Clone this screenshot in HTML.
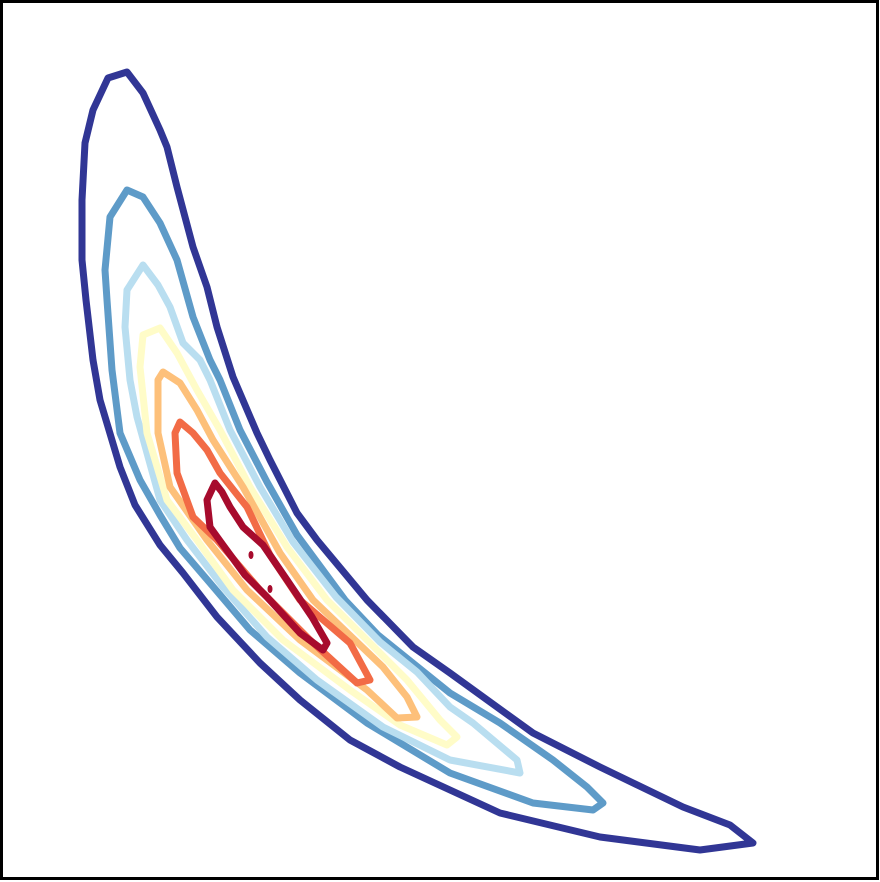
<!DOCTYPE html>
<html>
<head>
<meta charset="utf-8">
<style>
  html, body { margin: 0; padding: 0; background: #fff; }
  svg { display: block; }
</style>
</head>
<body>
<svg id="chart" width="880" height="882" viewBox="0 0 880 882" xmlns="http://www.w3.org/2000/svg">
  <rect x="1.5" y="1.5" width="876" height="877" fill="#fff" stroke="#000" stroke-width="3"/>
  <g id="contours"></g>
</svg>
<script>
// Contour levels (outer to inner), colours, and traced contour points in data units
const levelColors = ["#313695", "#5e9bc8", "#b9def0", "#fffcc8", "#fdc07a", "#f26b46", "#a70b2d"];
const level1 = [[127,72],[108,78],[93,110],[85,143],[82,200],[82,260],[86,300],[93,360],[100,400],[120,467],[135,505],[160,545],[183,573],[217,617],[260,663],[300,700],[350,740],[400,767],[450,790],[500,813],[600,837],[700,850],[753,843],[730,825],[683,807],[600,767],[533,733],[450,673],[413,647],[367,600],[317,540],[297,513],[270,460],[257,433],[233,377],[217,327],[207,287],[193,247],[177,187],[167,147],[160,130],[143,93]];
const level2 = [[127,190],[110,217],[105,270],[107,300],[112,370],[120,433],[140,480],[160,515],[180,548],[210,583],[250,630],[300,673],[367,723],[450,773],[533,803],[593,810],[603,803],[587,787],[553,760],[500,723],[450,693],[378,635],[345,600],[297,535],[267,482],[240,430],[220,380],[210,360],[193,317],[177,260],[160,223],[143,197]];
const level3 = [[143,265],[127,290],[125,327],[130,380],[137,417],[160,500],[187,540],[223,587],[267,637],[317,680],[383,727],[450,760],[520,773],[517,760],[473,723],[450,707],[417,672],[380,642],[336,597],[293,542],[260,487],[230,430],[210,380],[200,360],[183,343],[170,307],[158,285]];
const level4 = [[160,328],[143,335],[140,367],[147,433],[167,500],[197,540],[233,590],[283,640],[350,690],[400,725],[447,745],[457,737],[440,720],[407,680],[380,653],[327,600],[287,547],[250,487],[220,430],[197,390],[177,353]];
const level5 = [[163,372],[158,380],[158,433],[170,487],[207,540],[247,590],[300,640],[367,690],[397,718],[417,717],[407,697],[383,667],[313,600],[280,553],[243,487],[213,440],[197,410],[180,383]];
const level6 = [[180,422],[175,433],[177,473],[193,517],[217,540],[260,590],[310,640],[357,683],[370,680],[350,643],[300,600],[270,555],[247,507],[220,473],[207,450],[193,433]];
const level7 = [[215,483],[207,500],[210,527],[223,545],[245,575],[267,597],[300,633],[323,650],[327,643],[312,617],[287,580],[263,545],[243,527],[230,507],[222,492]];
const peakBlobs = [[251,555],[270,589]];

const xDomain = [0, 880], yDomain = [0, 882];
function xScale(v) { return (v - xDomain[0]) / (xDomain[1] - xDomain[0]) * 880; }
function yScale(v) { return (v - yDomain[0]) / (yDomain[1] - yDomain[0]) * 882; }

const levels = [level1, level2, level3, level4, level5, level6, level7];
const g = document.getElementById('contours');
const NS = 'http://www.w3.org/2000/svg';
levels.forEach((pts, i) => {
  const p = document.createElementNS(NS, 'path');
  const d = pts.map((q, j) => (j ? 'L' : 'M') + xScale(q[0]).toFixed(1) + ',' + yScale(q[1]).toFixed(1)).join(' ') + ' Z';
  p.setAttribute('d', d);
  p.setAttribute('fill', 'none');
  p.setAttribute('stroke', levelColors[i]);
  p.setAttribute('stroke-width', '7');
  p.setAttribute('stroke-linejoin', 'round');
  
  
  g.appendChild(p);
});
peakBlobs.forEach((q, i) => {
  const e = document.createElementNS(NS, 'ellipse');
  e.setAttribute('cx', xScale(q[0]));
  e.setAttribute('cy', yScale(q[1]));
  e.setAttribute('rx', 2.5);
  e.setAttribute('ry', 4);
  e.setAttribute('fill', levelColors[6]);
  
  
  g.appendChild(e);
});
</script>
</body>
</html>
